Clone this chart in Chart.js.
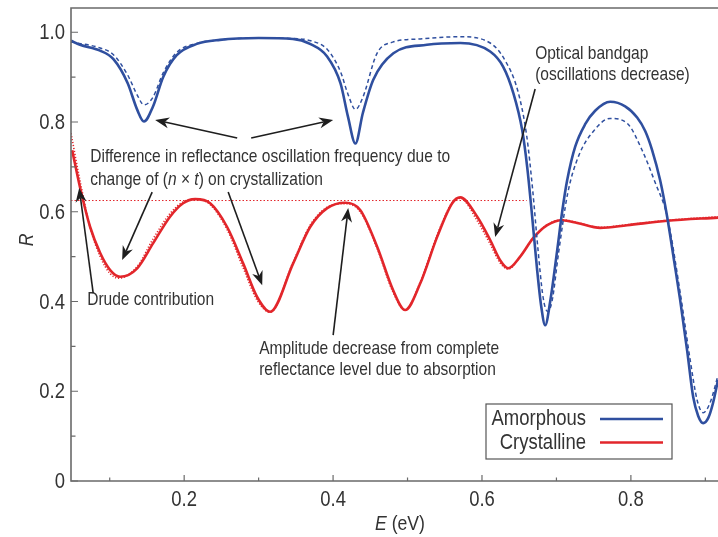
<!DOCTYPE html>
<html>
<head>
<meta charset="utf-8">
<script src="https://cdn.jsdelivr.net/npm/chart.js@4"></script>
<style>
html,body{margin:0;padding:0;background:#fff;}
#wrap{width:718px;height:537px;position:relative;}
</style>
</head>
<body>
<div id="wrap"><canvas id="c" width="718" height="537"></canvas></div>
<script>
// ---------- data ----------
const seriesNames = ['Amorphous', 'Crystalline'];

const amorphousSolidE = [0.048,0.06,0.087,0.105,0.124,0.137,0.146,0.158,0.172,0.19,0.217,0.248,0.30,0.346,0.369,0.392,0.41,0.42,0.43,0.44,0.454,0.481,0.526,0.571,0.611,0.6285,0.642,0.654,0.6607,0.6674,0.6741,0.6795,0.6849,0.6916,0.701,0.7077,0.7144,0.7252,0.7386,0.752,0.7722,0.7923,0.8084,0.8192,0.8286,0.8393,0.8487,0.8581,0.8662,0.8756,0.8837,0.8904,0.8971,0.9038,0.9105,0.917];
const amorphousSolidR = [0.981,0.972,0.959,0.940,0.887,0.827,0.801,0.834,0.901,0.949,0.974,0.983,0.987,0.985,0.974,0.946,0.886,0.812,0.752,0.82,0.894,0.953,0.972,0.976,0.957,0.923,0.865,0.782,0.70,0.589,0.47,0.39,0.347,0.40,0.514,0.60,0.67,0.745,0.795,0.825,0.845,0.835,0.81,0.78,0.737,0.67,0.589,0.49,0.403,0.29,0.187,0.145,0.129,0.14,0.175,0.225];

const amorphousDashE = [0.048,0.087,0.105,0.124,0.137,0.146,0.158,0.172,0.19,0.217,0.248,0.30,0.346,0.37,0.392,0.41,0.42,0.43,0.44,0.459,0.48,0.517,0.57,0.611,0.63,0.648,0.66,0.668,0.675,0.682,0.688,0.694,0.703,0.715,0.73,0.75,0.772,0.795,0.8151,0.8326,0.8487,0.8662,0.8796,0.889,0.8971,0.9065,0.917];
const amorphousDashR = [0.978,0.965,0.95,0.905,0.86,0.838,0.855,0.91,0.955,0.975,0.983,0.987,0.986,0.981,0.962,0.912,0.862,0.828,0.855,0.953,0.978,0.985,0.99,0.976,0.94,0.87,0.77,0.65,0.52,0.41,0.378,0.40,0.51,0.64,0.725,0.78,0.808,0.797,0.737,0.665,0.59,0.42,0.27,0.18,0.152,0.175,0.235];

const crystSolidE = [0.0496,0.0603,0.0737,0.0872,0.1006,0.114,0.1369,0.1584,0.181,0.1986,0.2148,0.2349,0.2577,0.2792,0.298,0.3155,0.3464,0.3692,0.3921,0.4162,0.4364,0.4592,0.4807,0.4968,0.517,0.5398,0.56,0.5707,0.5936,0.611,0.6244,0.6352,0.6513,0.6687,0.6876,0.7077,0.7279,0.7587,0.795,0.8487,0.917];
const crystSolidR = [0.737,0.653,0.566,0.508,0.47,0.455,0.474,0.53,0.589,0.619,0.628,0.619,0.566,0.485,0.41,0.377,0.485,0.566,0.608,0.62,0.604,0.522,0.425,0.381,0.44,0.544,0.619,0.632,0.589,0.537,0.492,0.474,0.5,0.541,0.57,0.581,0.575,0.564,0.57,0.58,0.587];

const crystDotE = [0.048,0.06,0.0737,0.0872,0.1006,0.112,0.1369,0.1584,0.181,0.1986,0.2148,0.2349,0.2577,0.2792,0.298,0.3155,0.3464,0.3692,0.3921,0.4162,0.4364,0.4592,0.4807,0.4968,0.517,0.5398,0.56,0.5707,0.5936,0.611,0.6244,0.6352,0.6513,0.6687,0.6876,0.7077,0.7279,0.7587,0.795,0.8487,0.917];
const crystDotR = [0.775,0.67,0.565,0.5,0.462,0.452,0.478,0.54,0.596,0.622,0.628,0.616,0.56,0.475,0.403,0.376,0.488,0.57,0.61,0.618,0.6,0.518,0.42,0.381,0.443,0.548,0.62,0.63,0.58,0.528,0.486,0.472,0.5,0.542,0.571,0.582,0.576,0.565,0.571,0.581,0.589];

const fullReflectE = [0.048, 0.66];
const fullReflectR = [0.625, 0.625];

const xTickLabels = ['0.2','0.4','0.6','0.8'];
const xMinorTicks = [0.1,0.3,0.5,0.7,0.9];
const yTickLabels = ['0','0.2','0.4','0.6','0.8','1.0'];
const yMinorTicks = [0.1,0.3,0.5,0.7,0.9];

// ---------- styles ----------
const BLUE = '#2f4f9f';
const RED = '#e2262b';
const TXT = '#333333';
const AXIS = '#6a6a6a';
const FONT = '"Liberation Sans", Arial, sans-serif';
const SQ = 0.84; // horizontal condensation to mimic a narrow face

function pts(xs, ys){ return xs.map((x,i)=>({x:x, y:ys[i]})); }

// annotations in data coordinates
const notes = [
  {x:0.0738, lines:[
    [['Difference in reflectance oscillation frequency due to','n']],
    [['change of (','n'],['n','i'],[' \u00d7 ','n'],['t','i'],[') on crystallization','n']]
  ], y:[0.722,0.672]},
  {x:0.0697, lines:[[['Drude contribution','n']]], y:[0.404]},
  {x:0.3007, lines:[[['Amplitude decrease from complete','n']],[['reflectance level due to absorption','n']]], y:[0.2937,0.2469]},
  {x:0.6714, lines:[[['Optical bandgap','n']],[['(oscillations decrease)','n']]], y:[0.9516,0.9047]}
];
const arrows = [
  [0.2712,0.7644,0.1610,0.8045],
  [0.2900,0.7644,0.4001,0.8045],
  [0.1570,0.6438,0.1167,0.4922],
  [0.2591,0.6438,0.3048,0.4364],
  [0.0778,0.4185,0.0590,0.6528],
  [0.4001,0.3249,0.4203,0.6081],
  [0.6714,0.8735,0.6177,0.5435]
];

function sqText(ctx, str, x, y, align){
  ctx.save();
  ctx.translate(x, y);
  ctx.scale(SQ, 1);
  ctx.textAlign = align || 'left';
  ctx.fillText(str, 0, 0);
  ctx.restore();
  return ctx.measureText(str).width * SQ;
}

function drawArrow(ctx, x1,y1,x2,y2){
  const ang = Math.atan2(y2-y1, x2-x1);
  const L = 14, W = 5.5;
  ctx.save();
  ctx.strokeStyle = '#1e1e1e'; ctx.fillStyle = '#1e1e1e';
  ctx.lineWidth = 1.6;
  ctx.beginPath();
  ctx.moveTo(x1,y1);
  ctx.lineTo(x2 - Math.cos(ang)*L*0.7, y2 - Math.sin(ang)*L*0.7);
  ctx.stroke();
  ctx.translate(x2,y2); ctx.rotate(ang);
  ctx.beginPath();
  ctx.moveTo(0,0);
  ctx.lineTo(-L, -W);
  ctx.lineTo(-L*0.7, 0);
  ctx.lineTo(-L, W);
  ctx.closePath();
  ctx.fill();
  ctx.restore();
}

const decor = {
  id:'decor',
  afterDatasetsDraw(chart){
    const ctx = chart.ctx, a = chart.chartArea;
    const xs = chart.scales.x, ys = chart.scales.y;
    ctx.save();
    // frame / axes
    ctx.strokeStyle = AXIS; ctx.lineWidth = 1.6;
    ctx.beginPath();
    ctx.moveTo(a.right+2, a.top); ctx.lineTo(a.left, a.top);
    ctx.lineTo(a.left, a.bottom); ctx.lineTo(a.right+2, a.bottom);
    ctx.stroke();
    // ticks (inward)
    ctx.lineWidth = 1.2;
    ctx.beginPath();
    yTickLabels.forEach(t=>{ const p = ys.getPixelForValue(parseFloat(t)); ctx.moveTo(a.left,p); ctx.lineTo(a.left+7,p); });
    yMinorTicks.forEach(t=>{ const p = ys.getPixelForValue(t); ctx.moveTo(a.left,p); ctx.lineTo(a.left+4.5,p); });
    xTickLabels.forEach(t=>{ const p = xs.getPixelForValue(parseFloat(t)); ctx.moveTo(p,a.bottom); ctx.lineTo(p,a.bottom-6); });
    xMinorTicks.forEach(t=>{ const p = xs.getPixelForValue(t); ctx.moveTo(p,a.bottom); ctx.lineTo(p,a.bottom-3.5); });
    ctx.stroke();
    // tick labels
    ctx.fillStyle = TXT;
    ctx.font = '22px ' + FONT;
    ctx.textBaseline = 'middle';
    yTickLabels.forEach(t=>{ sqText(ctx, t, a.left-6, ys.getPixelForValue(parseFloat(t))+1, 'right'); });
    ctx.textBaseline = 'top';
    xTickLabels.forEach(t=>{ sqText(ctx, t, xs.getPixelForValue(parseFloat(t)), a.bottom+8, 'center'); });
    // axis titles
    ctx.save();
    ctx.translate(27, 240); ctx.rotate(-Math.PI/2);
    ctx.font = 'italic 21px ' + FONT; ctx.textBaseline='middle';
    sqText(ctx, 'R', 0, 0, 'center');
    ctx.restore();
    ctx.textBaseline = 'middle';
    ctx.font = 'italic 21px ' + FONT;
    const wE = ctx.measureText('E').width * SQ;
    ctx.font = '21px ' + FONT;
    const wRest = ctx.measureText(' (eV)').width * SQ;
    let sx = 400 - (wE+wRest)/2;
    ctx.font = 'italic 21px ' + FONT; sqText(ctx, 'E', sx, 524, 'left');
    ctx.font = '21px ' + FONT; sqText(ctx, ' (eV)', sx+wE, 524, 'left');
    // annotation texts
    ctx.fillStyle = TXT;
    notes.forEach(n=>{
      n.lines.forEach((segs,i)=>{
        let px = xs.getPixelForValue(n.x);
        const py = ys.getPixelForValue(n.y[i]);
        segs.forEach(s=>{
          ctx.font = (s[1]==='i' ? 'italic ' : '') + '18.5px ' + FONT;
          px += sqText(ctx, s[0], px, py, 'left');
        });
      });
    });
    arrows.forEach(r=>{
      drawArrow(ctx, xs.getPixelForValue(r[0]), ys.getPixelForValue(r[1]), xs.getPixelForValue(r[2]), ys.getPixelForValue(r[3]));
    });
    // legend box
    const bx = a.left + 415, by = a.top + 396, bw = 186, bh = 55;
    ctx.fillStyle = '#fff';
    ctx.fillRect(bx, by, bw, bh);
    ctx.strokeStyle = '#555'; ctx.lineWidth = 1.2;
    ctx.strokeRect(bx, by, bw, bh);
    ctx.font = '22px ' + FONT; ctx.fillStyle = TXT;
    const cols = [BLUE, RED];
    seriesNames.forEach((nm,i)=>{
      const yy = by + 15 + i*23.5;
      sqText(ctx, nm, bx + 100, yy, 'right');
      ctx.strokeStyle = cols[i]; ctx.lineWidth = 2.4;
      ctx.beginPath(); ctx.moveTo(bx+114, yy); ctx.lineTo(bx+177, yy); ctx.stroke();
    });
    ctx.restore();
  }
};

const common = {fill:false, pointRadius:0, cubicInterpolationMode:'monotone', tension:0.4};

new Chart(document.getElementById('c'), {
  type:'line',
  data:{
    datasets:[
      Object.assign({label:seriesNames[0], data:pts(amorphousSolidE, amorphousSolidR), borderColor:BLUE, borderWidth:2.6, order:1}, common),
      Object.assign({label:seriesNames[0]+' (dashed)', data:pts(amorphousDashE, amorphousDashR), borderColor:BLUE, borderWidth:1.5, borderDash:[4,3], order:2}, common),
      Object.assign({label:seriesNames[1], data:pts(crystSolidE, crystSolidR), borderColor:RED, borderWidth:2.6, order:3}, common),
      Object.assign({label:seriesNames[1]+' (dotted)', data:pts(crystDotE, crystDotR), borderColor:RED, borderWidth:1.6, borderDash:[1.2,1.8], order:4}, common),
      {label:'full', data:pts(fullReflectE, fullReflectR), borderColor:RED, borderWidth:1, borderDash:[1.5,2], pointRadius:0, order:5}
    ]
  },
  options:{
    responsive:false, animation:false,
    layout:{padding:{left:0, top:8, right:0, bottom:0}},
    plugins:{legend:{display:false}, tooltip:{enabled:false}},
    scales:{
      x:{type:'linear', min:0.048, max:0.917, ticks:{display:false}, grid:{display:false}, border:{display:false},
         afterFit(s){ s.height = 56; }},
      y:{type:'linear', min:0, max:1.054, ticks:{display:false}, grid:{display:false}, border:{display:false},
         afterFit(s){ s.width = 71; }}
    }
  },
  plugins:[decor]
});
</script>
</body>
</html>
